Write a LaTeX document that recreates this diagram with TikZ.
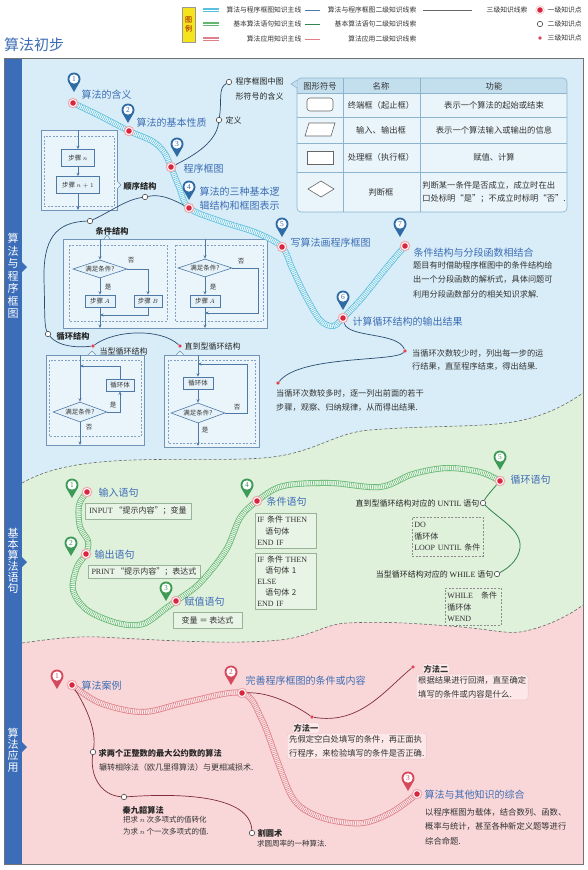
\documentclass[tikz,border=0pt]{standalone}
\usepackage{fontspec}
\setmainfont{Noto Sans CJK SC}
\newfontfamily\lat{Liberation Serif}
\usetikzlibrary{arrows.meta,shapes.geometric}
\newcommand\myfs[2]{\fontsize{#1}{#2}\selectfont}
\definecolor{bgblue}{HTML}{D8EDF7}
\definecolor{bggreen}{HTML}{DFF0DB}
\definecolor{bgpink}{HTML}{F9D7D8}
\definecolor{barblue}{HTML}{3B6DB8}
\definecolor{labblue}{HTML}{3D6DB5}
\definecolor{cyanD}{HTML}{5BBFDF}
\definecolor{cyanL}{HTML}{F2FAFD}
\definecolor{greenD}{HTML}{62B86E}
\definecolor{greenL}{HTML}{F3FAF2}
\definecolor{redD}{HTML}{E07F87}
\definecolor{redL}{HTML}{FCEDEE}
\definecolor{thinblue}{HTML}{2B4C72}
\definecolor{thingreen}{HTML}{2F8550}
\definecolor{thinred}{HTML}{7E2B3A}
\definecolor{kred}{HTML}{D7263D}
\definecolor{kpink}{HTML}{F3A7AE}
\definecolor{pinblue}{HTML}{2F6CA6}
\definecolor{pingreen}{HTML}{3E9A57}
\definecolor{pinred}{HTML}{D4495B}
\definecolor{fcline}{HTML}{4E79A6}
\definecolor{fcfill}{HTML}{E5F2F9}
\definecolor{tabline}{HTML}{8DB4CE}
\definecolor{tabhead}{HTML}{C3DFEE}
\definecolor{tabbody}{HTML}{EAF5FB}
\definecolor{codeline}{HTML}{98B398}
\definecolor{codefill}{HTML}{E8F4E5}
\definecolor{mfill}{HTML}{FCE8E9}
\definecolor{mline}{HTML}{EFC3C6}
\definecolor{txt}{HTML}{333333}
\definecolor{legy}{HTML}{F5E31B}
\begin{document}
\begin{tikzpicture}[x=1pt,y=-1pt,
  lab1/.style={anchor=west, inner sep=0.5pt, text=labblue, font=\myfs{10}{12}},
  lab2/.style={anchor=west, inner sep=0.5pt, text=black!85, font=\myfs{8}{10}},
  lab2b/.style={anchor=west, inner sep=0.5pt, text=black!85, font=\myfs{8.2}{10}\bfseries},
  expl/.style={anchor=north west, inner sep=0pt, text=txt, align=left, font=\myfs{8.2}{14.5}},
  legt/.style={inner sep=0.5pt, text=black!80, font=\myfs{6.8}{8}},
  vlab/.style={text=white, align=center, inner sep=0pt},
  kdot/.style={circle, inner sep=0pt, minimum size=10.5pt, fill=kpink,
     path picture={\fill[white] (path picture bounding box.center) circle (4pt);
                   \fill[kred] (path picture bounding box.center) circle (2.8pt);}},
  odot/.style={circle, inner sep=0pt, minimum size=5.5pt, draw=black!70, fill=white, line width=0.6pt},
  rdot/.style={circle, inner sep=0pt, minimum size=3.6pt, fill=kred, draw=kpink, line width=0.5pt},
  thin1/.style={draw=thinblue, line width=0.7pt},
  thin2/.style={draw=thingreen, line width=0.8pt},
  thin3/.style={draw=thinred, line width=0.7pt},
  mainc/.style={draw=cyanD, line width=6pt, postaction={draw=cyanL, line width=4.4pt}, postaction={draw=cyanD, line width=4.4pt, dash pattern=on 0.55pt off 1.3pt}},
  maing/.style={draw=greenD, line width=6pt, postaction={draw=greenL, line width=4.4pt}, postaction={draw=greenD, line width=4.4pt, dash pattern=on 0.55pt off 1.3pt}},
  mainr/.style={draw=redD, line width=6pt, postaction={draw=redL, line width=4.4pt}, postaction={draw=redD, line width=4.4pt, dash pattern=on 0.55pt off 1.3pt}},
  fcl/.style={draw=fcline, line width=0.6pt},
  fca/.style={draw=fcline, line width=0.6pt, -{Stealth[length=3.5pt,width=3pt]}},
  fcbox/.style={draw=fcline, fill=fcfill, line width=0.6pt, inner sep=0pt, font=\myfs{6.5}{7}, text=txt, minimum height=12pt},
  fcdia/.style={draw=fcline, fill=fcfill, line width=0.6pt, shape=diamond, aspect=3, inner sep=0pt, minimum width=54pt, minimum height=18pt, font=\myfs{6.5}{7}, text=txt},
  outerbox/.style={draw=fcline!80, line width=0.6pt, fill=bgblue!55!white},
  dashbox/.style={draw=fcline!70, line width=0.5pt, dash pattern=on 2pt off 1.5pt},
  fctxt/.style={font=\myfs{6.5}{7}, text=txt, inner sep=0.5pt},
  codebox/.style={draw=codeline, fill=codefill, line width=0.6pt, inner sep=2pt, font=\myfs{8}{11.5}, text=txt},
  dcode/.style={draw=black!45, line width=0.5pt, dash pattern=on 2pt off 1.5pt, inner sep=2pt, font=\myfs{8}{11.5}, text=txt},
  mbox/.style={draw=mline, fill=mfill, rounded corners=3pt, inner sep=2pt, align=left, font=\myfs{8.3}{14}, text=txt},
  pics/kpin/.style 2 args={code={
     \fill[#1] (0,0) circle (6.5pt);
     \fill[#1] (-5.63,3.25) -- (0,13) -- (5.63,3.25) -- cycle;
     \fill[white] (0,0) circle (4.7pt);
     \node[text=#1, font=\lat\myfs{7.5}{7.5}, inner sep=0pt] at (0,0) {#2};}}
]
\useasboundingbox (0,0) rectangle (587,870);
\fill[white] (0,0) rectangle (587,870);

% ---------- backgrounds ----------
\def\waveA{(22,483) .. controls (45,470) and (75,462) .. (133,460) .. controls (200,458) and (250,462) .. (285,455) .. controls (320,448) and (340,432) .. (370,430) .. controls (430,425) and (490,428) .. (523,420) .. controls (550,414) and (570,402) .. (583,393)}
\def\waveB{(22,643) .. controls (50,639) and (75,636) .. (100,637) .. controls (160,640) and (230,645) .. (280,640) .. controls (310,637) and (325,624) .. (347,623) .. controls (390,621) and (420,624) .. (450,626) .. controls (490,629) and (505,634) .. (520,632) .. controls (545,628) and (570,615) .. (583,605)}
\fill[bgblue] (4,58) rectangle (583,864);
\fill[bggreen] \waveA -- (583,864) -- (22,864) -- cycle;
\fill[bgpink] \waveB -- (583,864) -- (22,864) -- cycle;
\draw[black!60, line width=0.6pt, dash pattern=on 3pt off 2pt] \waveA;
\draw[black!60, line width=0.6pt, dash pattern=on 3pt off 2pt] \waveB;
\fill[barblue] (4,58) rectangle (22,864);
\fill[barblue] (22,262) -- (27,267) -- (22,272) -- cycle;
\fill[barblue] (22,557) -- (27,562) -- (22,567) -- cycle;
\fill[barblue] (22,742) -- (27,747) -- (22,752) -- cycle;
\draw[black!55, line width=0.8pt] (4,58) rectangle (583,864);
\node[vlab, font=\myfs{11}{12.5}] (v1) at (13,276) {算\\法\\与\\程\\序\\框\\图};
\node[vlab, font=\myfs{11}{11}] (v2) at (13,561) {基\\本\\算\\法\\语\\句};
\node[vlab, font=\myfs{11}{11.3}] (v3) at (13,750) {算\\法\\应\\用};

% ---------- title & legend ----------
\node[anchor=west, text=labblue, font=\myfs{15}{15}, inner sep=0pt] (title) at (4,45) {算法初步};
\filldraw[fill=legy, draw=black!40, line width=0.4pt] (182,7) rectangle (195,42);
\node[font=\myfs{7}{9}, text=red!60!black, align=center, inner sep=0pt] (leg) at (188.5,24.5) {图\\例};
\draw[draw=cyanD, line width=3.2pt, postaction={draw=white, line width=0.8pt}] (203,10) -- (219,10);
\draw[draw=greenD, line width=3.2pt, postaction={draw=white, line width=0.8pt}] (203,24) -- (219,24);
\draw[draw=redD, line width=3.2pt, postaction={draw=white, line width=0.8pt}] (203,39) -- (219,39);
\node[legt, anchor=east] (lg1) at (302,10) {算法与程序框图知识主线};
\node[legt, anchor=east] (lg2) at (302,24) {基本算法语句知识主线};
\node[legt, anchor=east] (lg3) at (302,39) {算法应用知识主线};
\draw[draw=fcline, line width=0.9pt] (305,10) -- (320,10);
\draw[draw=thingreen, line width=0.9pt] (305,24) -- (320,24);
\draw[draw=redD, line width=0.9pt] (305,39) -- (320,39);
\node[legt, anchor=east] (lg4) at (417,10) {算法与程序框图二级知识线索};
\node[legt, anchor=east] (lg5) at (417,24) {基本算法语句二级知识线索};
\node[legt, anchor=east] (lg6) at (417,39) {算法应用二级知识线索};
\draw[black!60, line width=0.8pt] (423,10) -- (472,10);
\node[legt, anchor=west] (lg7) at (486,10) {三级知识线索};
\node[kdot, minimum size=9pt] (lk1) at (540,10) {};
\node[odot] (lk2) at (540,24) {};
\node[rdot] (lk3) at (540,38) {};
\node[legt, anchor=west] (lg8) at (547,10) {一级知识点};
\node[legt, anchor=west] (lg9) at (547,24) {二级知识点};
\node[legt, anchor=west] (lg10) at (547,38) {三级知识点};

% ---------- table ----------
\begin{scope}
\clip[rounded corners=4pt] (297,78) rectangle (567,212);
\fill[tabbody] (297,78) rectangle (567,212);
\fill[tabhead] (297,78) rectangle (567,93);
\end{scope}
\draw[tabline, line width=0.6pt, rounded corners=4pt] (297,78) rectangle (567,212);
\draw[tabline, line width=0.6pt] (297,93) -- (567,93) (297,117) -- (567,117) (297,143) -- (567,143) (297,172) -- (567,172) (343,78) -- (343,212) (420,78) -- (420,212);
\filldraw[fill=tabhead, draw=tabline, line width=0.6pt] (297,80) -- (291,84) -- (297,88);
\draw[black!60, fill=white, line width=0.6pt, rounded corners=3pt] (307,98) rectangle (333,111);
\draw[black!60, fill=white, line width=0.6pt] (309,123) -- (335,123) -- (331,136) -- (305,136) -- cycle;
\draw[black!60, fill=white, line width=0.6pt] (307,151) rectangle (333,164);
\draw[black!60, fill=white, line width=0.6pt] (308,189) -- (321,181) -- (334,189) -- (321,197) -- cycle;
\begin{scope}[every node/.style={font=\myfs{8.3}{13}, text=txt, inner sep=0pt}]
\node (th1) at (320,86) {图形符号};
\node (th2) at (381,86) {名称};
\node (th3) at (494,86) {功能};
\node (tr1b) at (381,105) {终端框（起止框）};
\node (tr1c) at (494,105) {表示一个算法的起始或结束};
\node (tr2b) at (381,130) {输入、输出框};
\node (tr2c) at (494,130) {表示一个算法输入或输出的信息};
\node (tr3b) at (381,157.5) {处理框（执行框）};
\node (tr3c) at (494,157.5) {赋值、计算};
\node (tr4b) at (381,192) {判断框};
\node[align=left] (tr4c) at (494,192) {判断某一条件是否成立，成立时在出\\口处标明“是”；不成立时标明“否”.};
\end{scope}

% ---------- sequence structure ----------
\draw[outerbox] (41,130) rectangle (117,210);
\filldraw[fill=bgblue!55!white, draw=fcline!80, line width=0.6pt] (117,181) -- (121,185) -- (117,189);
\draw[dashbox] (44,136) rectangle (114,206);
\coordinate (sqt) at (78,130);
\coordinate (sqb) at (78,210);
\node[fcbox, minimum width=33pt, minimum height=17pt] (s1) at (78,158) {步骤 $n$};
\node[fcbox, minimum width=43pt, minimum height=17pt] (s2) at (78,185) {步骤 $n+1$};
\draw[fca] (sqt) -- (s1);
\draw[fca] (s1) -- (s2);
\draw[fca] (s2) -- (sqb);

% ---------- condition structure ----------
\draw[outerbox] (63,239) rectangle (267,328);
\filldraw[fill=bgblue!55!white, draw=fcline!80, line width=0.6pt] (104,239) -- (107,235) -- (110,239);
\draw[dashbox] (69,245) rectangle (167,321);
\draw[dashbox] (175,245) rectangle (263,321);
\coordinate (c1t) at (100,239);
\node[fcdia] (d1) at (100,269) {满足条件?};
\node[fcbox, minimum width=30pt] (a1) at (100,301) {步骤 $A$};
\node[fcbox, minimum width=28pt] (b1) at (148,301) {步骤 $B$};
\draw[fca] (c1t) -- (d1.north);
\draw[fca] (d1.south) -- (a1.north);
\draw[fca] (d1.east) -| (b1.north);
\coordinate (c1m) at (100,315);
\coordinate (c1b) at (100,328);
\draw[fca] (b1.south) |- (c1m);
\draw[fca] (a1.south) -- (c1b);
\node[fctxt] (y1) at (108,287) {是};
\node[fctxt] (n1) at (131,260) {否};
\coordinate (c2t) at (205,239);
\node[fcdia] (d2) at (205,268) {满足条件?};
\node[fcbox, minimum width=30pt] (a2) at (205,301) {步骤 $A$};
\draw[fca] (c2t) -- (d2.north);
\draw[fca] (d2.south) -- (a2.north);
\coordinate (c2r) at (258,268);
\coordinate (c2m) at (205,313);
\coordinate (c2b) at (205,328);
\draw[fca] (d2.east) -- (c2r) |- (c2m);
\draw[fca] (a2.south) -- (c2b);
\node[fctxt] (y2) at (213,287) {是};
\node[fctxt] (n2) at (241,261) {否};

% ---------- loop structures ----------
\draw[outerbox] (46,355) rectangle (144,445);
\filldraw[fill=bgblue!55!white, draw=fcline!80, line width=0.6pt] (88,355) -- (92,351) -- (96,355);
\draw[dashbox] (49,360) rectangle (141,436);
\coordinate (l1t) at (80,355);
\node[fcdia, minimum height=20pt] (d3) at (80,412) {满足条件?};
\node[fcbox, minimum width=28pt] (lb1) at (120,385) {循环体};
\draw[fca] (l1t) -- (d3.north);
\draw[fca] (d3.east) -| (lb1.south);
\coordinate (l1r) at (80,366);
\draw[fca] (lb1.north) |- (l1r);
\coordinate (l1b) at (80,445);
\draw[fca] (d3.south) -- (l1b);
\node[fctxt] (y3) at (113,405) {是};
\node[fctxt] (n3) at (89,427) {否};

\draw[outerbox] (164,355) rectangle (259,447);
\filldraw[fill=bgblue!55!white, draw=fcline!80, line width=0.6pt] (176,355) -- (180,351) -- (184,355);
\draw[dashbox] (168,360) rectangle (255,443);
\coordinate (l2t) at (198,355);
\node[fcbox, minimum width=30pt] (lb2) at (198,383) {循环体};
\node[fcdia, minimum height=20pt] (d4) at (198,413) {满足条件?};
\draw[fca] (l2t) -- (lb2);
\draw[fca] (lb2) -- (d4);
\coordinate (l2r) at (247,364);
\coordinate (l2m) at (198,364);
\draw[fca] (d4.east) -| (l2r) -- (l2m);
\coordinate (l2b) at (198,446);
\draw[fca] (d4.south) -- (l2b);
\node[fctxt] (n4) at (237,407) {否};
\node[fctxt] (y4) at (205,430) {是};

% ---------- section 1 main line ----------
\coordinate (c11) at (73,103);
\coordinate (c12) at (129,131);
\coordinate (c13) at (171,167);
\coordinate (c14) at (189,208);
\coordinate (c15) at (282,247);
\coordinate (c16) at (343,318);
\coordinate (c17) at (405,246);
\draw[mainc] plot[smooth, tension=0.55] coordinates {(c11) (100,116) (c12) (152,141) (164,152) (c13) (179,187) (c14) (220,221) (257,233) (c15) (292,268) (305,295) (320,320) (333,326) (c16) (362,298) (387,267) (c17)};
\node[kdot] (k11) at (c11) {};
\node[kdot] (k12) at (c12) {};
\node[kdot] (k13) at (c13) {};
\node[kdot] (k14) at (c14) {};
\node[kdot] (k15) at (c15) {};
\node[kdot] (k16) at (c16) {};
\node[kdot] (k17) at (c17) {};
\pic at (74,79) {kpin={pinblue}{1}};
\pic at (128,110) {kpin={pinblue}{2}};
\pic at (177,144) {kpin={pinblue}{3}};
\pic at (189,187) {kpin={pinblue}{4}};
\pic at (282,224) {kpin={pinblue}{5}};
\pic at (343,297) {kpin={pinblue}{6}};
\pic at (400,224) {kpin={pinblue}{7}};
\node[lab1] (L11) at (81,95) {算法的含义};
\node[lab1] (L12) at (136,123) {算法的基本性质};
\node[lab1] (L13) at (183,169) {程序框图};
\node[lab1, align=left, anchor=north west, font=\myfs{10}{14.5}] (L14) at (199,186) {算法的三种基本逻\\辑结构和框图表示};
\node[lab1] (L15) at (290,243) {写算法画程序框图};
\node[lab1] (L16) at (352,322) {计算循环结构的输出结果};
\node[lab1] (L17) at (413,253) {条件结构与分段函数相结合};

% section 1 second level
\node[odot] (o_def) at (219,120) {};
\node[odot] (o_sym) at (229,82) {};
\node[lab2] (t_def) at (225,120) {定义};
\node[lab2, anchor=north west, align=left, font=\myfs{8}{15}] (t_sym) at (235,77) {程序框图中图\\形符号的含义};
\draw[thin1] (k13) .. controls (195,155) and (216,142) .. (o_def) .. controls (222,100) and (218,88) .. (o_sym);
\node[odot] (o_seq) at (145,197) {};
\node[lab2b] (t_seq) at (123,186) {顺序结构};
\node[odot] (o_cond) at (90,221) {};
\node[lab2b] (t_cond) at (95,231) {条件结构};
\node[odot] (o_loop) at (48,334) {};
\node[lab2b] (t_loop) at (56,336) {循环结构};
\node[rdot] (r_dang) at (93,346) {};
\node[lab2] (t_dang) at (99,351) {当型循环结构};
\node[rdot] (r_zhi) at (180,346) {};
\node[lab2] (t_zhi) at (184,346) {直到型循环结构};
\draw[thin1] (k14) .. controls (170,198) and (160,194) .. (o_seq) .. controls (125,200) and (110,212) .. (o_cond) .. controls (55,222) and (43,240) .. (44,280) .. controls (45,310) and (44,325) .. (o_loop);
\draw[thin1] (o_loop) .. controls (58,346) and (75,348) .. (r_dang) .. controls (115,330) and (160,328) .. (r_zhi);
\node[rdot] (r_few) at (405,351) {};
\node[rdot] (r_many) at (278,383) {};
\draw[thin1] (k16) .. controls (348,338) and (398,332) .. (r_few) .. controls (395,362) and (300,355) .. (r_many);
\node[expl] (e7) at (413,261) {题目有时借助程序框图中的条件结构给\\出一个分段函数的解析式，具体问题可\\利用分段函数部分的相关知识求解.};
\node[expl, font=\myfs{8.2}{13.5}] (e6a) at (412,349) {当循环次数较少时，列出每一步的运\\行结果，直至程序结束，得出结果.};
\node[expl, font=\myfs{8.2}{14}] (e6b) at (276,389) {当循环次数较多时，逐一列出前面的若干\\步骤，观察、归纳规律，从而得出结果.};

% ---------- section 2 ----------
\node[codebox, minimum width=106pt, minimum height=16pt] (b_in) at (138,511) {{\lat INPUT} “提示内容”；变量};
\node[codebox, minimum width=112pt, minimum height=13pt, inner sep=1pt] (b_out) at (144,571.5) {{\lat PRINT} “提示内容”；表达式};
\node[codebox, minimum width=69pt, minimum height=16pt] (b_as) at (207.5,620) {变量 ＝ 表达式};
\node[codebox, anchor=north west, text width=57pt, align=left, minimum height=35pt] (b_if1) at (255,513) {{\lat IF} 条件 {\lat THEN}\\\hspace*{8pt}语句体\\{\lat END IF}};
\node[codebox, anchor=north west, text width=57pt, align=left, minimum height=55pt, font=\myfs{8}{11.2}] (b_if2) at (255,553) {{\lat IF} 条件 {\lat THEN}\\\hspace*{8pt}语句体 1\\{\lat ELSE}\\\hspace*{8pt}语句体 2\\{\lat END IF}};
\node[dcode, anchor=north west, text width=67pt, align=left, minimum height=39pt] (b_do) at (412,517) {{\lat DO}\\循环体\\{\lat LOOP UNTIL} 条件};
\node[dcode, anchor=north west, text width=52pt, align=left, minimum height=37pt] (b_wh) at (445,588) {{\lat WHILE}\quad 条件\\循环体\\{\lat WEND}};

\coordinate (c21) at (87,492);
\coordinate (c22) at (86,554);
\coordinate (c23) at (176,601);
\coordinate (c24) at (257,501);
\coordinate (c25) at (500,481);
\draw[maing] plot[smooth, tension=0.55] coordinates {(c21) (79,505) (80,527) (88,541) (c22) (77,567) (73,590) (87,610) (117,623) (143,624) (165,609) (c23) (200,583) (226,550) (240,518) (c24) (283,486) (330,483) (380,487) (413,474) (447,468) (480,472) (c25)};
\node[kdot] (k21) at (c21) {};
\node[kdot] (k22) at (c22) {};
\node[kdot] (k23) at (c23) {};
\node[kdot] (k24) at (c24) {};
\node[kdot] (k25) at (c25) {};
\pic at (72,485) {kpin={pingreen}{1}};
\pic at (71,543) {kpin={pingreen}{2}};
\pic at (166,588) {kpin={pingreen}{3}};
\pic at (247,485) {kpin={pingreen}{4}};
\pic at (500,457) {kpin={pingreen}{5}};
\node[lab1] (L21) at (98,493) {输入语句};
\node[lab1] (L22) at (94,555) {输出语句};
\node[lab1] (L23) at (184,602) {赋值语句};
\node[lab1] (L24) at (266,502) {条件语句};
\node[lab1] (L25) at (510,480) {循环语句};
\node[odot] (o_until) at (483,503) {};
\node[lab2, anchor=east] (t_until) at (480,503) {直到型循环结构对应的 {\lat UNTIL} 语句};
\node[odot] (o_while) at (497,574) {};
\node[lab2, anchor=east] (t_while) at (494,574) {当型循环结构对应的 {\lat WHILE} 语句};
\draw[thin2] (k25) .. controls (492,490) and (486,497) .. (o_until) .. controls (500,520) and (522,530) .. (520,548) .. controls (518,562) and (505,570) .. (o_while);

% ---------- section 3 ----------
\coordinate (c31) at (72,685);
\coordinate (c32) at (242,693);
\coordinate (c33) at (417,794);
\node[odot] (o_gcd) at (93,752) {};
\node[odot] (o_qin) at (124,797) {};
\node[odot] (o_ge) at (252,833) {};
\node[rdot] (r_m1) at (312,717) {};
\node[rdot] (r_m2) at (413,667) {};
\draw[mainr] plot[smooth, tension=0.55] coordinates {(c31) (100,703) (143,712) (187,702) (c32) (262,720) (277,760) (291,795) (305,810) (330,820) (363,823) (392,812) (c33)};
\node[kdot] (k31) at (c31) {};
\node[kdot] (k32) at (c32) {};
\node[kdot] (k33) at (c33) {};
\draw[thin3] (k31) .. controls (85,705) and (97,730) .. (o_gcd) .. controls (90,775) and (100,795) .. (o_qin) .. controls (180,793) and (250,795) .. (o_ge);
\draw[thin3] (k32) .. controls (270,692) and (295,705) .. (r_m1) .. controls (360,725) and (385,690) .. (r_m2);
\pic at (57,676) {kpin={pinred}{1}};
\pic at (231,672) {kpin={pinred}{2}};
\pic at (408,778) {kpin={pinred}{3}};
\node[lab1] (L31) at (81,686) {算法案例};
\node[lab1] (L32) at (245,681) {完善程序框图的条件或内容};
\node[lab1] (L33) at (424,795) {算法与其他知识的综合};
\node[lab2b] (t_gcd) at (98,753) {求两个正整数的最大公约数的算法};
\node[expl, font=\myfs{8}{10}] (e_gcd) at (99,763) {辗转相除法（欧几里得算法）与更相减损术.};
\node[lab2b] (t_qin) at (122,810) {秦九韶算法};
\node[expl, font=\myfs{7.5}{12}] (e_qin) at (123,816) {把求 $n$ 次多项式的值转化\\为求 $n$ 个一次多项式的值.};
\node[lab2b] (t_ge) at (257,833) {割圆术};
\node[expl, font=\myfs{7.5}{10}] (e_ge) at (257,840) {求圆周率的一种算法.};
\node[mbox, anchor=north west] (m1) at (287,733) {先假定空白处填写的条件，再正面执\\行程序，来检验填写的条件是否正确.};
\node[mbox, anchor=west, font=\myfs{8.2}{10}\bfseries, inner sep=1.5pt] (m1t) at (292,728) {方法一};
\node[mbox, anchor=north west] (m2) at (416,674) {根据结果进行回溯，直至确定\\填写的条件或内容是什么.};
\node[mbox, anchor=west, font=\myfs{8.2}{10}\bfseries, inner sep=1.5pt] (m2t) at (422,669) {方法二};
\node[expl, font=\myfs{8.3}{14.5}] (e33) at (425,808) {以程序框图为载体，结合数列、函数、\\概率与统计，甚至各种新定义题等进行\\综合命题.};
\end{tikzpicture}
\end{document}
